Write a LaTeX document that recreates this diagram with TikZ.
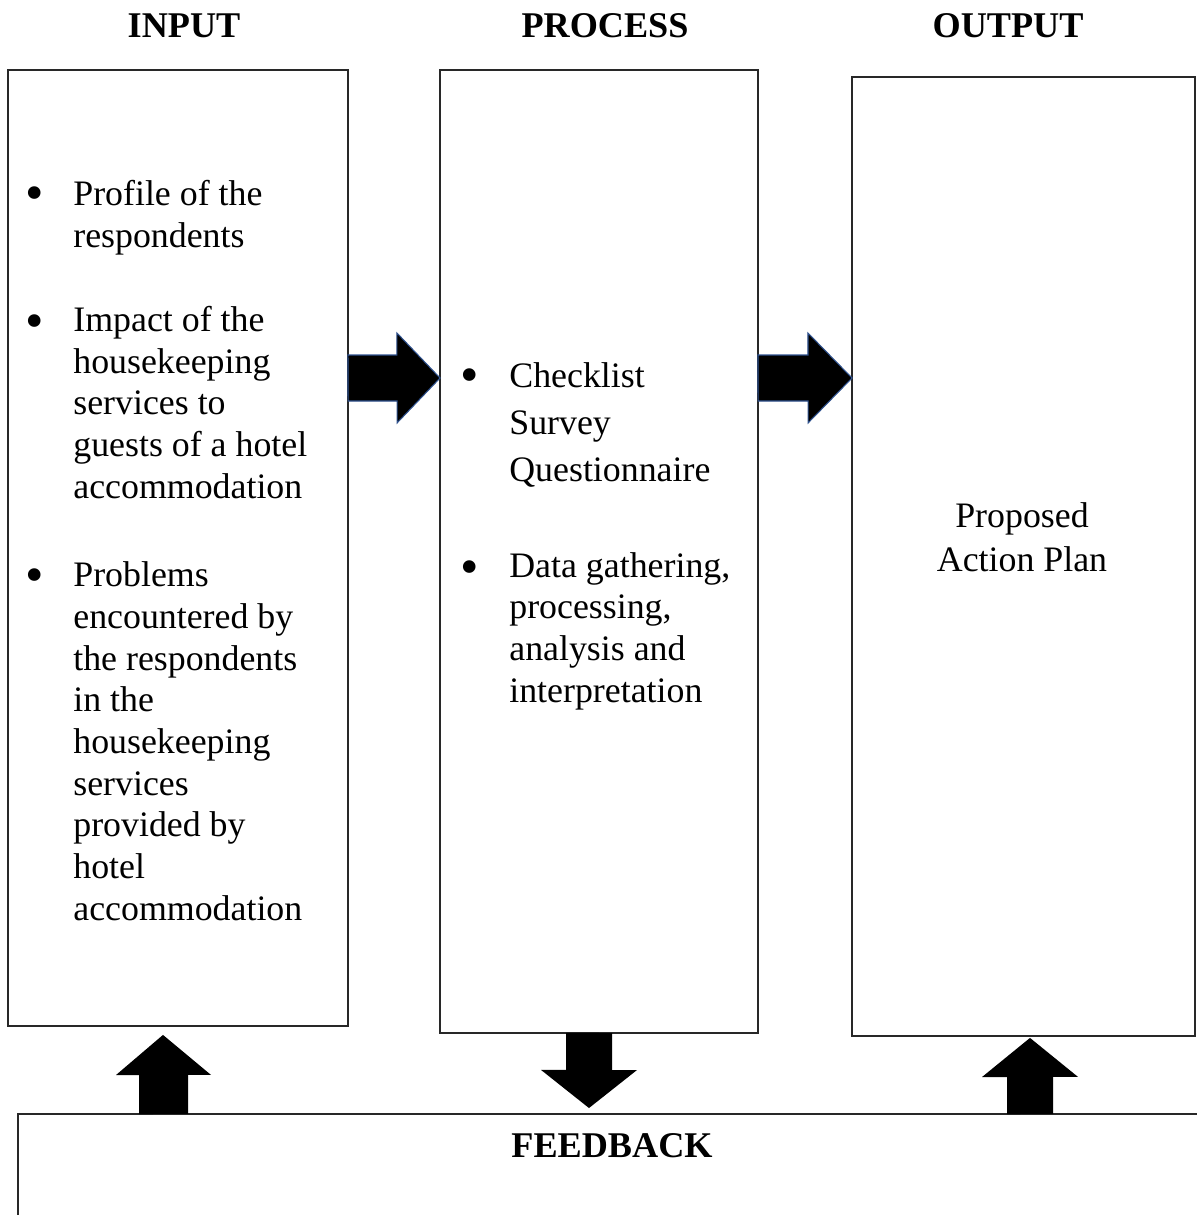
\documentclass[tikz,border=0pt]{standalone}
\usepackage{fontspec}
\setmainfont{Liberation Serif}
\usepackage{tikz}
\usetikzlibrary{calc}
\definecolor{boxline}{RGB}{40,40,40}
\definecolor{arrowedge}{RGB}{47,82,143}

\begin{document}
\begin{tikzpicture}[x=0.02cm, y=-0.02cm,
  frame/.style={rectangle, draw=boxline, line width=1.1pt, inner sep=0pt, outer sep=0pt},
  txt/.style={font=\fontsize{20.4}{23.7}\selectfont, inner sep=0pt, align=left},
  dot/.style={font=\fontsize{30}{30}\selectfont, inner sep=0pt, anchor=base},
  heading/.style={font=\fontsize{20.6}{24}\selectfont\bfseries, inner sep=0pt},
  fatarrow/.style={fill=black},
  sidearrow/.style={fill=black, draw=arrowedge, line width=0.6pt, line join=miter}]

  \path[use as bounding box, clip] (0,0) rectangle (1197,1215);

  % Column headings
  \node (intitle) at (184,37) [heading, anchor=base] {INPUT};
  \node (proctitle) at (605,37) [heading, anchor=base] {PROCESS};
  \node (outtitle) at (1008,37) [heading, anchor=base] {OUTPUT};

  % The three frames and the feedback strip
  \node (inbox) at (178,548) [frame, minimum width=6.8cm, minimum height=19.12cm] {};
  \node (procbox) at (599,551.5) [frame, minimum width=6.36cm, minimum height=19.26cm] {};
  \node (outbox) at (1023.5,556.5) [frame, minimum width=6.86cm, minimum height=19.18cm] {};
  \node (feedbox) at (629,1207) [frame, minimum width=24.44cm, minimum height=3.72cm] {};
  \node (feedtitle) at (612,1157) [heading, anchor=base] {FEEDBACK};

  % Input items (base = last line)
  \foreach \y [count=\i] in {205,333,587} {
    \node (inbul\i) at (35,\y+5) [dot] {\textbullet};
  }
  \node (initem1) at (73,247) [txt, anchor=base west] {Profile of the\\respondents};
  \node (initem2) at (73,498) [txt, anchor=base west] {Impact of the\\housekeeping\\services to\\guests of a hotel\\accommodation};
  \node (initem3) at (73,920) [txt, anchor=base west] {Problems\\encountered by\\the respondents\\in the\\housekeeping\\services\\provided by\\hotel\\accommodation};

  % Process items
  \foreach \y [count=\i] in {387,579} {
    \node (procbul\i) at (470,\y+5) [dot] {\textbullet};
  }
  \node (procitem1) at (509,481) [txt, anchor=base west] {Checklist\\[2.9pt]Survey\\[2.9pt]Questionnaire};
  \node (procitem2) at (509,702) [txt, anchor=base west] {Data gathering,\\processing,\\analysis and\\interpretation};

  % Output
  \node (plan) at (1022,571) [txt, align=center, anchor=base] {Proposed\\[1.3pt]Action Plan};

  % Block arrows between the frames
  \draw[sidearrow] (inbox.east |- 0,355) -- ++(49,0) -- ++(0,-22) -- (procbox.west |- 0,378)
    -- ++(-43,45) -- ++(0,-22) -- ++(-49,0) -- cycle;
  \draw[sidearrow] (procbox.east |- 0,355) -- ++(50,0) -- ++(0,-22) -- (outbox.west |- 0,378)
    -- ++(-44,45) -- ++(0,-22) -- ++(-50,0) -- cycle;

  % Feedback arrows
  \fill[fatarrow] (139,0 |- feedbox.north) -- ++(0,-39) -- ++(-23,0) -- ($(163,0 |- inbox.south)+(0,9)$)
    -- ++(48,40) -- ++(-23,0) -- ++(0,39) -- cycle;
  \fill[fatarrow] (566,0 |- procbox.south) -- ++(0,37) -- ++(-25,0) -- ($(589,0 |- feedbox.north)+(0,-6)$)
    -- ++(48,-38) -- ++(-25,0) -- ++(0,-37) -- cycle;
  \fill[fatarrow] (1007,0 |- feedbox.north) -- ++(0,-37) -- ++(-25,0) -- ($(1030,0 |- outbox.south)+(0,2)$)
    -- ++(48,39) -- ++(-25,0) -- ++(0,37) -- cycle;

\end{tikzpicture}
\end{document}
